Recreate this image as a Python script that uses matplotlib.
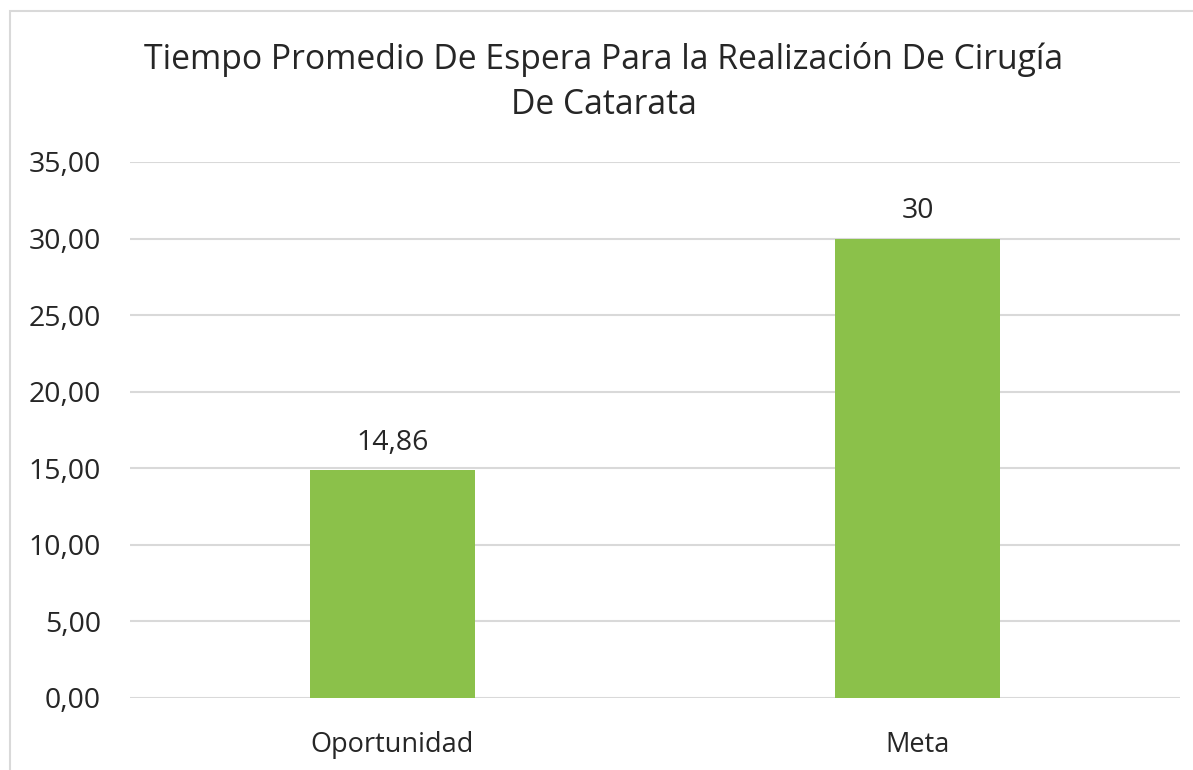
import matplotlib.pyplot as plt
from matplotlib.patches import Rectangle

# datos del gráfico
categorias = ['Oportunidad', 'Meta']
valores = [14.86, 30]
etiquetas = ['14,86', '30']
ticks_y = [0, 5, 10, 15, 20, 25, 30, 35]

plt.rcParams['font.family'] = ['Open Sans', 'DejaVu Sans']

fig = plt.figure(figsize=(11.93, 7.70), dpi=100)
ax = fig.add_axes([130 / 1193, 72 / 770, 1050 / 1193, 536 / 770])

# marco gris alrededor del gráfico
fig.patches.append(Rectangle((10 / 1193, -0.05), 1.2, (770 - 11) / 770 + 0.05,
                             transform=fig.transFigure, fill=False,
                             edgecolor='#d9d9d9', linewidth=1.5))

x = range(len(categorias))
barras = ax.bar(x, valores, width=0.315, color='#8bc14a', zorder=2)

for b, txt in zip(barras, etiquetas):
    ax.annotate(txt, (b.get_x() + b.get_width() / 2, b.get_height()),
                xytext=(0, 10), textcoords='offset points',
                ha='center', va='bottom', fontsize=20.5, color='#262626')

ax.set_xlim(-0.5, 1.5)
ax.set_ylim(0, 35)
ax.set_yticks(ticks_y)
ax.set_yticklabels([f'{v:.2f}'.replace('.', ',') for v in ticks_y])
ax.set_xticks(list(x))
ax.set_xticklabels(categorias)
ax.tick_params(axis='both', length=0, labelsize=20.5, colors='#262626')
ax.tick_params(axis='y', pad=21)
ax.tick_params(axis='x', labelsize=19.5, pad=24)

ax.grid(axis='y', color='#d9d9d9', linewidth=1.5, zorder=0)
for s in ax.spines.values():
    s.set_visible(False)

fig.text(604 / 1193, 1 - 82 / 770, 'Tiempo Promedio De Espera Para la Realización De Cirugía\nDe Catarata',
         ha='center', va='center', fontsize=24.3, color='#262626', linespacing=1.45)

fig.savefig('out.png', dpi=100)
